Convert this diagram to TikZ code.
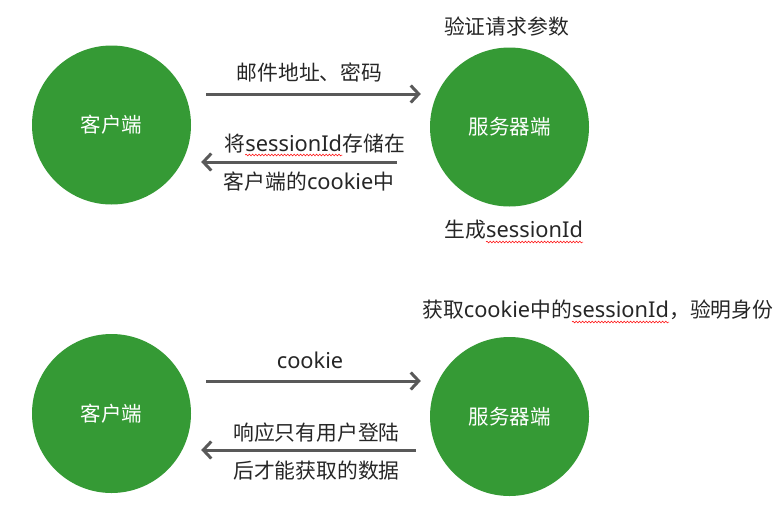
\documentclass[tikz,border=0pt]{standalone}
\usepackage{fontspec}
\setmainfont{Noto Sans CJK SC}
\newfontfamily\latinfont{Noto Sans}
\usetikzlibrary{arrows.meta,decorations.pathmorphing}
\definecolor{cgreen}{RGB}{53,154,53}
\definecolor{carrow}{RGB}{89,89,89}
\definecolor{ctext}{RGB}{38,38,38}
\newcommand\lat[1]{{\latinfont\fontsize{21.8}{24}\selectfont #1}}
\begin{document}
\begin{tikzpicture}[x=1pt,y=-1pt,
  circ/.style={circle,fill=cgreen,minimum size=159pt,inner sep=0pt,text=white,font=\fontsize{20.5}{24}\selectfont},
  lbl/.style={text=ctext,font=\fontsize{20.8}{24}\selectfont,inner sep=0pt},
  part/.style={lbl,anchor=base west},
  flow/.style={draw=carrow,line width=3pt,-{Straight Barb[length=8pt,width=17pt,line width=3pt]}},
  wave/.style={draw=red,line width=0.5pt,decorate,decoration={snake,amplitude=0.9pt,segment length=3.2pt}}]
\useasboundingbox (0,0) rectangle (776,504);
% circles
\node[circ] (c1) at (111.5,125) {客户端};
\node[circ] (s1) at (509.5,127) {服务器端};
\node[circ] (c2) at (111.5,413.5) {客户端};
\node[circ] (s2) at (509.5,416.5) {服务器端};
% top arrows
\draw[flow] ([shift={(15,-31)}]c1.east) -- ([shift={(-9,-33)}]s1.west);
\draw[flow] ([shift={(-33,35)}]s1.west) -- ([shift={(10,37)}]c1.east);
% bottom arrows
\draw[flow] ([shift={(15,-32.5)}]c2.east) -- ([shift={(-9,-35.5)}]s2.west);
\draw[flow] ([shift={(-14,33.5)}]s2.west) -- ([shift={(10,36.5)}]c2.east);
% top labels
\node[lbl] (l1) at (309.5,72) {邮件地址、密码};
\node[part] (l2a) at (224,151) {将};
\node[part] (l2b) at (l2a.base east) {\lat{sessionId}};
\node[part] (l2c) at (l2b.base east) {存储在};
\draw[wave] ([yshift=-4pt]l2b.base west) -- ([yshift=-4pt]l2b.base east);
\node[lbl] (l3) at (309,182) {客户端的\lat{cookie}中};
\node[lbl] (l4) at (506.5,27) {验证请求参数};
\node[part] (l5a) at (444,237) {生成};
\node[part] (l5b) at (l5a.base east) {\lat{sessionId}};
\draw[wave] ([yshift=-5pt]l5b.base west) -- ([yshift=-5pt]l5b.base east);
% bottom labels
\node[part] (l6a) at (422,317) {获取\lat{cookie}中的};
\node[part] (l6b) at (l6a.base east) {\lat{sessionId}};
\node[part] (l6c) at (l6b.base east) {，验明身份};
\draw[wave] ([yshift=-5pt]l6b.base west) -- ([yshift=-5pt]l6b.base east);
\node[lbl] (l7) at (310,360) {\lat{cookie}};
\node[lbl] (l8) at (316.5,433) {响应只有用户登陆};
\node[lbl] (l9) at (316.5,471) {后才能获取的数据};
\end{tikzpicture}
\end{document}
